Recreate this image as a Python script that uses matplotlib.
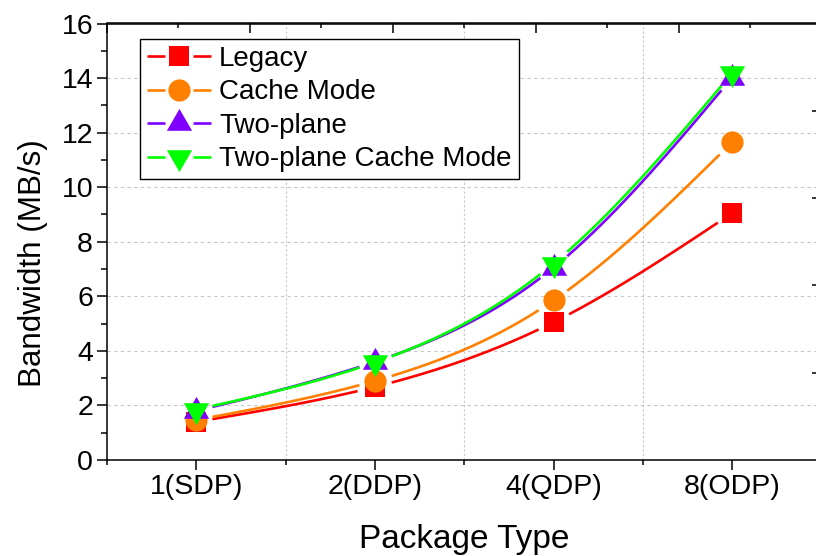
import numpy as np
import matplotlib
matplotlib.use("Agg")
import matplotlib.pyplot as plt
from matplotlib.lines import Line2D
from matplotlib.legend_handler import HandlerBase
from matplotlib.path import Path

plt.rcParams['font.family'] = ['Liberation Sans', 'DejaVu Sans']

# ---- data ----
categories = ["1(SDP)", "2(DDP)", "4(QDP)", "8(ODP)"]
legacy = [1.4, 2.68, 5.05, 9.05]
cache_mode = [1.47, 2.9, 5.85, 11.65]
two_plane = [1.8, 3.6, 7.05, 14.02]
two_plane_cache = [1.85, 3.58, 7.2, 14.18]
series_names = ["Legacy", "Cache Mode", "Two-plane", "Two-plane Cache Mode"]
y_ticks = [0, 2, 4, 6, 8, 10, 12, 14, 16]

colors = ["#FF0000", "#FF8000", "#8000FF", "#00FF00"]

tri_up = Path([(-1, -0.577), (1, -0.577), (0, 1.155), (-1, -0.577)],
              [Path.MOVETO, Path.LINETO, Path.LINETO, Path.CLOSEPOLY])
tri_dn = Path([(-1, 0.577), (1, 0.577), (0, -1.155), (-1, 0.577)],
              [Path.MOVETO, Path.LINETO, Path.LINETO, Path.CLOSEPOLY])
markers = ["s", "o", tri_up, tri_dn]
msizes = [14, 16, 21, 21]


def natural_spline(x, y, n=300):
    x = np.asarray(x, float); y = np.asarray(y, float)
    k = len(x)
    h = np.diff(x)
    A = np.zeros((k, k)); b = np.zeros(k)
    A[0, 0] = 1; A[-1, -1] = 1
    for i in range(1, k - 1):
        A[i, i - 1] = h[i - 1]; A[i, i] = 2 * (h[i - 1] + h[i]); A[i, i + 1] = h[i]
        b[i] = 3 * ((y[i + 1] - y[i]) / h[i] - (y[i] - y[i - 1]) / h[i - 1])
    c = np.linalg.solve(A, b)
    xs = np.linspace(x[0], x[-1], n)
    ys = np.empty_like(xs)
    for j, xv in enumerate(xs):
        i = min(np.searchsorted(x, xv, side='right') - 1, k - 2)
        d = xv - x[i]
        bi = (y[i + 1] - y[i]) / h[i] - h[i] * (2 * c[i] + c[i + 1]) / 3
        di = (c[i + 1] - c[i]) / (3 * h[i])
        ys[j] = y[i] + bi * d + c[i] * d ** 2 + di * d ** 3
    return xs, ys


W, H = 816, 556
fig = plt.figure(figsize=(W / 100, H / 100), dpi=100)
ax = fig.add_axes([107 / W, 1 - 460 / H, 714.5 / W, 436.5 / H])

x = np.arange(len(categories))
ax.set_xlim(-0.5, len(categories) - 0.5)
ax.set_ylim(0, 16)

# grid
for yv in y_ticks[1:-1]:
    ax.axhline(yv, color="#C8C8C8", lw=0.8, ls=(0, (3, 3)), zorder=0)
for xv in np.arange(0.5, len(categories) - 0.5, 1.0):
    ax.axvline(xv, color="#C8C8C8", lw=0.8, ls=(0, (2, 2)), zorder=0)

all_series = [legacy, cache_mode, two_plane, two_plane_cache]
fig.canvas.draw()
gap_px = 16
for vals, col, mk, ms in zip(all_series, colors, markers, msizes):
    xs, ys = natural_spline(x, vals)
    disp = ax.transData.transform(np.column_stack([xs, ys]))
    pts = ax.transData.transform(np.column_stack([x, vals]))
    dmin = np.min(np.hypot(disp[:, None, 0] - pts[None, :, 0],
                           disp[:, None, 1] - pts[None, :, 1]), axis=1)
    ysm = np.where(dmin > gap_px, ys, np.nan)
    ax.plot(xs, ysm, color=col, lw=1.9, solid_capstyle='butt', zorder=2)
    ax.plot(x, vals, ls='none', marker=mk, ms=ms, color=col,
            markeredgewidth=0, zorder=3)

# axes styling
for s in ax.spines.values():
    s.set_linewidth(1.1)
ax.set_xticks(x)
ax.set_xticklabels(categories)
ax.set_xticks(np.arange(-0.5, len(categories), 1.0), minor=True)
ax.set_yticks(y_ticks)
ax.set_yticks(np.arange(1, 16, 2), minor=True)
ax.tick_params(axis='both', which='major', direction='out', length=7,
               width=1.1, labelsize=20.5, pad=3)
ax.tick_params(axis='both', which='minor', direction='out', length=3.5, width=1.1)
ax.tick_params(axis='y', which='minor', length=4.5)

top = ax.secondary_xaxis('top')
top.set_xticks(np.arange(-0.5, len(categories) - 0.4, 0.8))
top.set_xticks(np.arange(-0.1, len(categories) - 0.5, 0.8), minor=True)
top.tick_params(which='major', direction='in', length=7, width=1.1, labeltop=False)
top.tick_params(which='minor', direction='in', length=3.5, width=1.1)
top.spines['top'].set_linewidth(1.1)

right = ax.secondary_yaxis('right')
right.set_yticks([3.2, 6.4, 9.6, 12.8])
right.tick_params(which='major', direction='in', length=7, width=1.1, labelright=False)
right.spines['right'].set_linewidth(1.1)

ax.set_xlabel("Package Type", fontsize=24)
ax.xaxis.set_label_coords(0.5, -0.147)
ax.set_ylabel("Bandwidth (MB/s)", fontsize=22.6)
ax.yaxis.set_label_coords(-0.083, 0.45)


class GapHandler(HandlerBase):
    def __init__(self, marker, ms, **kw):
        super().__init__(**kw)
        self.marker = marker
        self.ms = ms

    def create_artists(self, legend, orig_handle, xdescent, ydescent, width,
                       height, fontsize, trans):
        col = orig_handle.get_color()
        yc = height / 2 - ydescent
        cx = width / 2 - xdescent
        g = 10
        l1 = Line2D([-xdescent, cx - g], [yc, yc], color=col, lw=1.9,
                    solid_capstyle='butt')
        l2 = Line2D([cx + g, width - xdescent], [yc, yc], color=col, lw=1.9,
                    solid_capstyle='butt')
        m = Line2D([cx], [yc], ls='none', marker=self.marker, ms=self.ms,
                   color=col, markeredgewidth=0)
        for a in (l1, l2, m):
            a.set_transform(trans)
        return [l1, l2, m]


handles = [Line2D([], [], color=c) for c in colors]
hmap = {h: GapHandler(mk, ms) for h, mk, ms in zip(handles, markers, msizes)}
leg = ax.legend(handles, series_names, handler_map=hmap, loc='upper left',
                bbox_to_anchor=(140 / W, 1 - 39 / H), bbox_transform=fig.transFigure,
                borderaxespad=0, fontsize=20, handlelength=2.3,
                handletextpad=0.3, labelspacing=0.27, borderpad=0.25,
                fancybox=False, framealpha=1, edgecolor='black')
leg.get_frame().set_linewidth(1.0)

fig.savefig("out.png", dpi=100)
